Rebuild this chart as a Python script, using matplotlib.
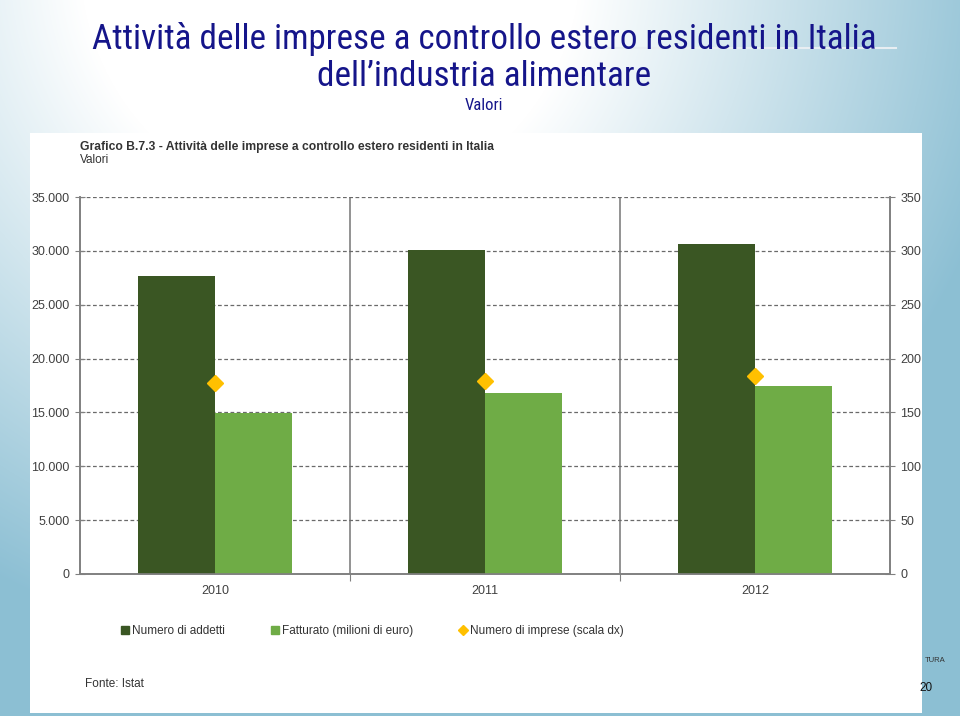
import numpy as np
import matplotlib
matplotlib.use("Agg")
import matplotlib.pyplot as plt
from matplotlib import font_manager
from matplotlib.lines import Line2D
from matplotlib.patches import Rectangle
from matplotlib.ticker import FuncFormatter

plt.rcParams['font.family'] = ['Liberation Sans', 'DejaVu Sans']

# data
anni = ['2010', '2011', '2012']
addetti = [27700, 30100, 30600]        # Numero di addetti
fatturato = [14950, 16800, 17500]      # Fatturato (milioni di euro)
imprese = [177, 179, 184]              # Numero di imprese (scala dx)

dark_green = '#3a5623'
light_green = '#6fac46'
gold = '#ffc000'
grey_txt = '#404040'
grey_line = '#808080'

# narrow face for the slide title if one is around
installed = {f.name for f in font_manager.fontManager.ttflist}
title_family = [n for n in ('Liberation Sans Narrow', 'Arial Narrow', 'Roboto Condensed')
                if n in installed] + ['Liberation Sans', 'DejaVu Sans']

fig = plt.figure(figsize=(9.6, 7.16), dpi=100)

# slide background: white top-left fading into light blue
bg = fig.add_axes([0, 0, 1, 1], zorder=-10)
yy, xx = np.mgrid[0:716, 0:960]
d = np.sqrt((xx - 330.0) ** 2 + (yy + 40.0) ** 2)
t = np.clip((d - 250) / 450, 0, 1)[..., None]
white = np.array([1.0, 1.0, 1.0])
blue = np.array([0.55, 0.75, 0.83])
bg.imshow(white * (1 - t) + blue * t, aspect='auto', extent=[0, 1, 0, 1])
bg.set_axis_off()

# white panel holding the original chart
fig.patches.append(Rectangle((30 / 960, 3 / 716), 892 / 960, 580 / 716,
                             transform=fig.transFigure, facecolor='white',
                             edgecolor='none', zorder=-5))

# slide titles
title_kw = dict(family=title_family, color='#15158a', ha='center', va='center')
t1 = fig.text(484 / 960, 1 - 39 / 716, 'Attività delle imprese a controllo estero residenti in Italia',
              fontsize=27, **title_kw)
t2 = fig.text(484 / 960, 1 - 77 / 716, 'dell\u2019industria alimentare', fontsize=27, **title_kw)
fig.text(484 / 960, 1 - 105 / 716, 'Valori', fontsize=12, **title_kw)

# fit the first title line to the width it has on the slide (~783 px)
r = fig.canvas.get_renderer()
size = 27 * 783 / t1.get_window_extent(r).width
t1.set_fontsize(min(size, 27))
t2.set_fontsize(min(size, 27))

fig.add_artist(Line2D([590 / 960, 896 / 960], [1 - 48 / 716] * 2, color='#e8eef2', lw=1.5))

# chart heading inside the panel
fig.text(80 / 960, 1 - 147 / 716,
         'Grafico B.7.3 - Attività delle imprese a controllo estero residenti in Italia',
         fontsize=8.7, fontweight='bold', color='#333333', ha='left', va='center')
fig.text(80 / 960, 1 - 160 / 716, 'Valori', fontsize=8.5, color='#333333', ha='left', va='center')

ax = fig.add_axes([80 / 960, 1 - 574 / 716, 810 / 960, 377 / 716])
ax2 = ax.twinx()

x = np.arange(len(anni))
w = 0.285
ax.bar(x - w, addetti, w, align='edge', color=dark_green, zorder=3)
ax.bar(x, fatturato, w, align='edge', color=light_green, zorder=3)
ax2.plot(x, imprese, linestyle='none', marker='D', ms=8, color=gold, zorder=4)

ax.set_xlim(-0.5, 2.5)
ax.set_ylim(0, 35000)
ax2.set_ylim(0, 350)
ax.set_yticks(np.arange(0, 35001, 5000))
ax2.set_yticks(np.arange(0, 351, 50))
ax.yaxis.set_major_formatter(FuncFormatter(lambda v, p: f'{int(v):,}'.replace(',', '.')))

# category separators as major ticks, year labels as minor ticks
ax.set_xticks([0.5, 1.5])
ax.set_xticks(x, minor=True)
ax.set_xticklabels([])
ax.set_xticklabels(anni, minor=True)
ax.tick_params(axis='x', which='major', direction='out', length=5, color=grey_line)
ax.tick_params(axis='x', which='minor', length=0, pad=8, labelsize=9, labelcolor=grey_txt)
ax.grid(axis='x', which='major', linestyle='-', color=grey_line, lw=1.2, zorder=1)
ax.grid(axis='y', linestyle=(0, (3, 2)), color='#6a6a6a', lw=0.9, zorder=1)
ax.set_axisbelow(True)

ax.tick_params(axis='y', direction='inout', length=7, color=grey_line, labelsize=9,
               labelcolor=grey_txt, pad=4)
ax2.tick_params(axis='y', direction='inout', length=7, color=grey_line, labelsize=9,
                labelcolor=grey_txt, pad=4)

for a in (ax, ax2):
    a.spines['top'].set_visible(False)
    for s in ('left', 'right', 'bottom'):
        a.spines[s].set_color(grey_line)
        a.spines[s].set_linewidth(1.2)

handles = [Line2D([], [], linestyle='none', marker='s', ms=6, color=dark_green),
           Line2D([], [], linestyle='none', marker='s', ms=6, color=light_green),
           Line2D([], [], linestyle='none', marker='D', ms=5, color=gold)]
labels = ['Numero di addetti', 'Fatturato (milioni di euro)', 'Numero di imprese (scala dx)']
fig.legend(handles, labels, loc='center left', bbox_to_anchor=(110 / 960, 1 - 631 / 716),
           ncol=3, frameon=False, fontsize=8.5, handlelength=0.8, handletextpad=0.2,
           columnspacing=3.8, labelcolor='#333333')

fig.text(85 / 960, 1 - 684 / 716, 'Fonte: Istat', fontsize=8.5, color='#333333',
         ha='left', va='center')

# bits of the slide footer peeking out at the right edge
fig.text(925 / 960, 1 - 660 / 716, 'TURA', fontsize=5.5, color='#333333', ha='left', va='center')
fig.text(919 / 960, 1 - 688 / 716, '20', fontsize=8.5, color='#111111', ha='left', va='center')

fig.savefig('out.png', dpi=100)
